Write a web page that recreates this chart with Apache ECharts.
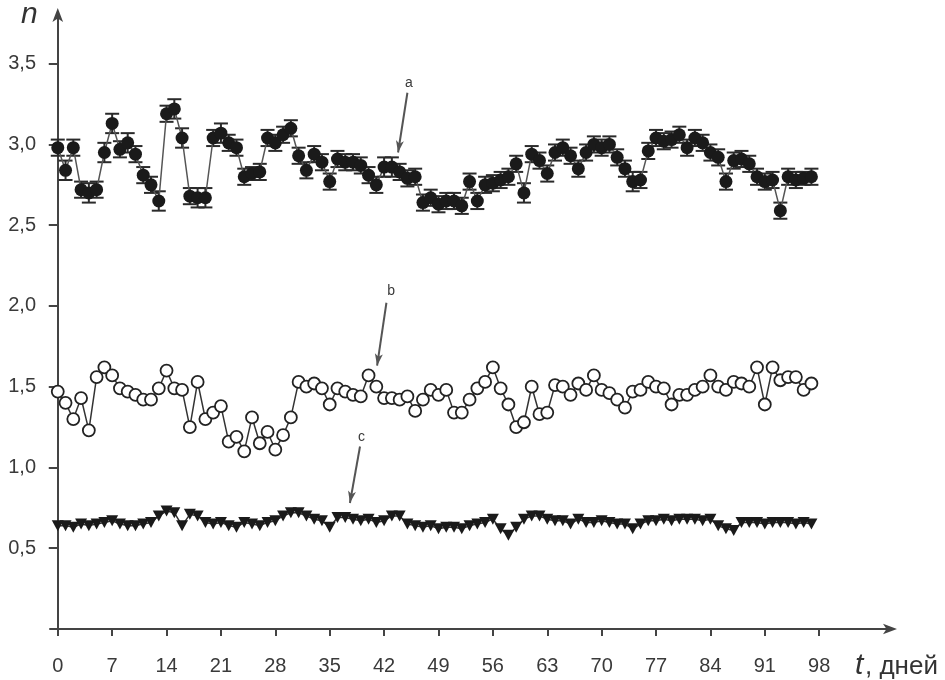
<!DOCTYPE html>
<html><head><meta charset="utf-8">
<script src="https://cdn.jsdelivr.net/npm/echarts@6/dist/echarts.min.js"></script>
<style>html,body{margin:0;padding:0;background:#fff}#c{width:945px;height:680px}</style>
</head><body><div id="c"></div>
<script>
const days = [0,1,2,3,4,5,6,7,8,9,10,11,12,13,14,15,16,17,18,19,20,21,22,23,24,25,26,27,28,29,30,31,32,33,34,35,36,37,38,39,40,41,42,43,44,45,46,47,48,49,50,51,52,53,54,55,56,57,58,59,60,61,62,63,64,65,66,67,68,69,70,71,72,73,74,75,76,77,78,79,80,81,82,83,84,85,86,87,88,89,90,91,92,93,94,95,96,97];
const seriesA = [2.98,2.84,2.98,2.72,2.70,2.72,2.95,3.13,2.97,3.01,2.94,2.81,2.75,2.65,3.19,3.22,3.04,2.68,2.67,2.67,3.04,3.07,3.01,2.98,2.80,2.82,2.83,3.04,3.01,3.06,3.10,2.93,2.84,2.94,2.89,2.77,2.91,2.89,2.89,2.87,2.81,2.75,2.86,2.86,2.83,2.79,2.80,2.64,2.67,2.63,2.65,2.65,2.62,2.77,2.65,2.75,2.76,2.78,2.80,2.88,2.70,2.94,2.90,2.82,2.95,2.98,2.93,2.85,2.95,3.00,2.98,3.00,2.92,2.85,2.77,2.78,2.96,3.04,3.02,3.03,3.06,2.98,3.04,3.01,2.95,2.92,2.77,2.90,2.91,2.88,2.80,2.77,2.78,2.59,2.80,2.78,2.79,2.80];
const errA = [0.05,0.06,0.05,0.05,0.06,0.05,0.06,0.06,0.05,0.06,0.05,0.05,0.05,0.06,0.05,0.06,0.06,0.05,0.06,0.06,0.05,0.06,0.05,0.05,0.05,0.04,0.05,0.05,0.05,0.05,0.05,0.05,0.05,0.05,0.05,0.05,0.05,0.05,0.05,0.05,0.05,0.05,0.06,0.06,0.05,0.05,0.05,0.05,0.05,0.05,0.05,0.05,0.05,0.05,0.05,0.05,0.05,0.05,0.05,0.05,0.06,0.05,0.05,0.05,0.05,0.05,0.05,0.05,0.05,0.05,0.05,0.05,0.05,0.05,0.06,0.05,0.05,0.05,0.05,0.05,0.05,0.05,0.05,0.05,0.05,0.05,0.05,0.05,0.05,0.05,0.05,0.05,0.05,0.05,0.05,0.05,0.04,0.05];
const seriesB = [1.47,1.40,1.30,1.43,1.23,1.56,1.62,1.57,1.49,1.47,1.45,1.42,1.42,1.49,1.60,1.49,1.48,1.25,1.53,1.30,1.34,1.38,1.16,1.19,1.10,1.31,1.15,1.22,1.11,1.20,1.31,1.53,1.50,1.52,1.49,1.39,1.49,1.47,1.45,1.44,1.57,1.50,1.43,1.43,1.42,1.44,1.35,1.42,1.48,1.45,1.48,1.34,1.34,1.42,1.49,1.53,1.62,1.49,1.39,1.25,1.28,1.50,1.33,1.34,1.51,1.50,1.45,1.52,1.48,1.57,1.48,1.46,1.42,1.37,1.47,1.48,1.53,1.50,1.49,1.39,1.45,1.45,1.48,1.50,1.57,1.50,1.48,1.53,1.52,1.50,1.62,1.39,1.62,1.54,1.56,1.56,1.48,1.52];
const seriesC = [0.64,0.64,0.63,0.65,0.64,0.65,0.66,0.67,0.65,0.64,0.64,0.65,0.66,0.70,0.73,0.72,0.64,0.71,0.70,0.66,0.65,0.66,0.64,0.63,0.66,0.65,0.64,0.66,0.67,0.70,0.72,0.72,0.70,0.68,0.67,0.63,0.69,0.69,0.68,0.67,0.68,0.66,0.67,0.70,0.70,0.65,0.64,0.63,0.64,0.62,0.63,0.63,0.62,0.64,0.65,0.66,0.68,0.62,0.58,0.63,0.68,0.70,0.70,0.68,0.67,0.67,0.65,0.68,0.66,0.66,0.67,0.66,0.65,0.65,0.62,0.65,0.67,0.67,0.68,0.67,0.68,0.68,0.68,0.67,0.68,0.64,0.62,0.61,0.66,0.66,0.66,0.65,0.66,0.66,0.66,0.65,0.66,0.65];
const xTicks = [0,7,14,21,28,35,42,49,56,63,70,77,84,91,98];
const yTicks = [0.5,1.0,1.5,2.0,2.5,3.0,3.5];
// annotation arrows: [label, labelPos, lineStart, lineEnd] in data units
const annotations = [
  ['a', [45.2, 3.38], [45.0, 3.32], [43.8, 2.95]],
  ['b', [42.9, 2.09], [42.3, 2.02], [41.1, 1.63]],
  ['c', [39.1, 1.19], [38.9, 1.13], [37.6, 0.78]]
];

const FONT = "'Liberation Sans', Arial, sans-serif";
const TXT = '#3a3a3a';
const pairs = arr => days.map((d, i) => [d, arr[i]]);
const errData = days.map((d, i) => [d, seriesA[i], errA[i]]);

const chart = echarts.init(document.getElementById('c'));
chart.setOption({
  animation: false,
  backgroundColor: '#fff',
  grid: { left: 50, right: 52, top: 12, bottom: 51, containLabel: false },
  xAxis: {
    type: 'value', min: -1, max: 107.5,
    splitLine: { show: false },
    axisLine: { lineStyle: { color: '#444', width: 2 }, symbol: ['none', 'arrow'], symbolSize: [8, 14], symbolOffset: [0, 4] },
    axisTick: { customValues: xTicks, length: 7, lineStyle: { color: '#444', width: 2 } },
    axisLabel: { customValues: xTicks, margin: 27, fontSize: 20, color: TXT, fontFamily: FONT, formatter: v => String(v) }
  },
  yAxis: {
    type: 'value', min: 0, max: 3.82,
    splitLine: { show: false },
    axisLine: { show: true, lineStyle: { color: '#444', width: 2 }, symbol: ['none', 'arrow'], symbolSize: [8, 14], symbolOffset: [0, 4] },
    axisTick: { show: true, customValues: yTicks, length: 9, lineStyle: { color: '#444', width: 2 } },
    axisLabel: { customValues: yTicks, margin: 14, fontSize: 20, color: TXT, fontFamily: FONT,
      formatter: v => v.toFixed(1).replace('.', ',') }
  },
  series: [
    {
      type: 'custom', name: 'errA', data: errData, z: 3,
      renderItem: function (params, api) {
        const x = api.value(0), y = api.value(1), e = api.value(2);
        const t = api.coord([x, y + e]), b = api.coord([x, y - e]);
        const w = 7;
        const st = { stroke: '#2a2a2a', lineWidth: 2 };
        return { type: 'group', children: [
          { type: 'line', shape: { x1: t[0], y1: t[1], x2: b[0], y2: b[1] }, style: st },
          { type: 'line', shape: { x1: t[0] - w, y1: t[1], x2: t[0] + w, y2: t[1] }, style: st },
          { type: 'line', shape: { x1: b[0] - w, y1: b[1], x2: b[0] + w, y2: b[1] }, style: st }
        ]};
      }
    },
    {
      type: 'line', name: 'a', data: pairs(seriesA), z: 4,
      symbol: 'circle', symbolSize: 13, showAllSymbol: true,
      itemStyle: { color: '#1a1a1a' },
      lineStyle: { color: '#555', width: 1.5 },
      markLine: {
        silent: true, animation: false,
        lineStyle: { color: '#555', width: 2, type: 'solid' },
        symbol: ['none', 'arrow'], symbolSize: [6, 12],
        label: { show: false },
        data: annotations.map(a => [{ coord: a[2] }, { coord: a[3] }])
      },
      markPoint: {
        silent: true, symbol: 'circle', symbolSize: 1, itemStyle: { color: 'rgba(0,0,0,0)' },
        label: { show: true, position: 'inside', color: TXT, fontSize: 14, fontFamily: FONT, formatter: p => p.name },
        data: annotations.map(a => ({ name: a[0], coord: a[1] }))
      }
    },
    {
      type: 'line', name: 'b', data: pairs(seriesB), z: 4,
      symbol: 'circle', symbolSize: 12, showAllSymbol: true,
      itemStyle: { color: '#fff', borderColor: '#222', borderWidth: 1.8 },
      lineStyle: { color: '#333', width: 1.5 }
    },
    {
      type: 'line', name: 'c', data: pairs(seriesC), z: 4,
      symbol: 'triangle', symbolRotate: 180, symbolSize: [12, 11], showAllSymbol: true,
      itemStyle: { color: '#1a1a1a' },
      lineStyle: { color: '#333', width: 1.5 }
    }
  ],
  graphic: [
    { type: 'text', left: 21, top: 0, style: { text: 'n', font: "italic 30px 'Liberation Sans', Arial, sans-serif", fill: '#333' } },
    { type: 'text', left: 855, top: 651, style: { text: 't', font: "italic 30px 'Liberation Sans', Arial, sans-serif", fill: '#333' } },
    { type: 'text', left: 865, top: 654, style: { text: ', дней', font: "26px 'Liberation Sans', Arial, sans-serif", fill: '#333' } }
  ]
});
</script></body></html>
